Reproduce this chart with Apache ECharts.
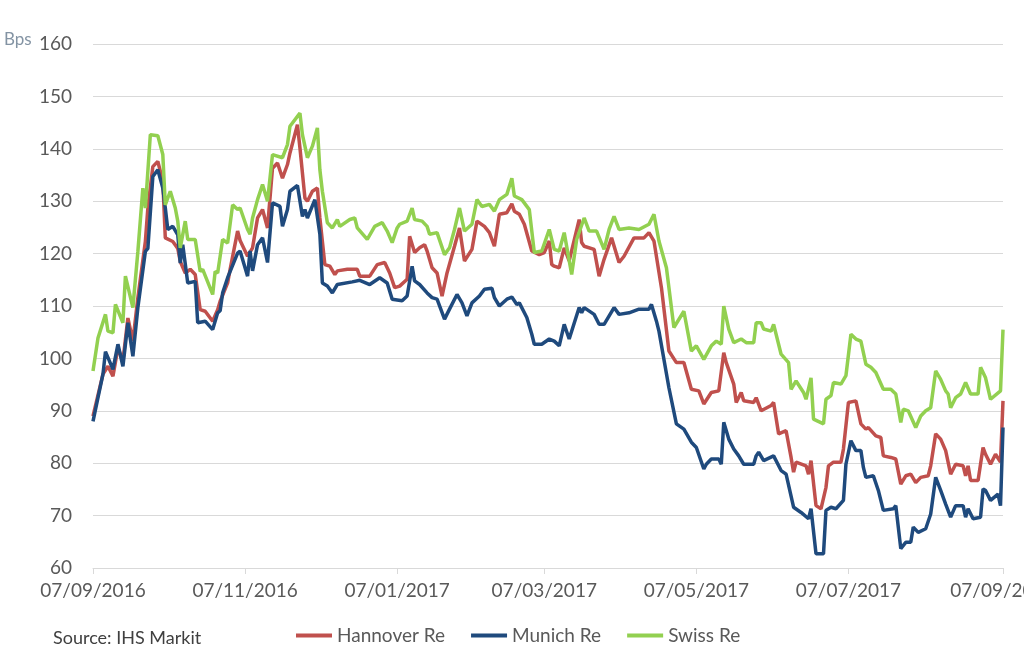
<!DOCTYPE html>
<html>
<head>
<meta charset="utf-8">
<script src="https://cdn.jsdelivr.net/npm/echarts@6/dist/echarts.min.js"></script>
<style>
  html, body { margin: 0; padding: 0; background: #ffffff; }
  #chart { width: 1024px; height: 666px; }
</style>
</head>
<body>
<div id="chart"></div>
<script>
// Day offsets are counted from startDate (07/09/2016).
const startDate = '2016-09-07';
const tickDays = [0, 61, 122, 181, 242, 303, 365];
const tickLabels = ['07/09/2016', '07/11/2016', '07/01/2017', '07/03/2017', '07/05/2017', '07/07/2017', '07/09/2017'];
const seriesNames = ['Hannover Re', 'Munich Re', 'Swiss Re'];

// [day offset, Bps]
const hannoverRe = [
  [0,89],[4,97],[6,98.5],[8,96.6],[10,102],[12,99.5],[14,107.7],[16,103.3],[18,111.6],[21,122.3],
  [22,128.7],[24,136.6],[26,137.6],[28,133.8],[29,123],[32,122.3],[34,121],[35,118.5],[37,116.3],[39,117],
  [41,116],[43,109.3],[45,109],[48,107.1],[50,109.3],[51,110.9],[54,114.4],[55,117],[58,124.3],[59,122.5],
  [62,119.5],[64,121.1],[66,126.8],[68,128.4],[70,124.9],[72,136.3],[74,137.3],[76,134.4],[78,137],[79,139.2],
  [82,144.6],[83,140.2],[85,130.6],[86,130],[88,131.9],[90,132.5],[91,126.8],[93,117.9],[95,117.6],[97,116],
  [98,116.7],[102,117],[106,117],[107,115.7],[111,115.7],[114,117.9],[117,118.3],[119,116.3],[121,113.5],[123,113.8],
  [126,115.1],[127,123.3],[129,120.2],[131,121.1],[133,121.7],[134,120.5],[136,117.3],[138,116.3],[140,111.9],[142,116.3],
  [145,121.4],[147,124.9],[149,118.6],[152,120.8],[154,126.2],[157,125.2],[159,124],[161,121.4],[163,127.5],[166,127.8],
  [168,129.5],[169,128.1],[171,127.5],[173,125.6],[176,120.5],[179,119.8],[181,120.2],[183,122.4],[184,117.9],[185,117.6],
  [187,117.3],[189,121.1],[191,118.6],[195,126.5],[196,122.1],[197,121.4],[201,120.8],[203,115.7],[205,118.9],[208,123],
  [211,118.3],[213,119.5],[217,123],[221,123],[223,124],[225,122.4],[228,113.5],[231,101.4],[234,99.2],[237,99.2],
  [240,94.1],[243,93.8],[245,91.3],[248,93.5],[251,93.8],[253,101.1],[254,99.2],[257,95.1],[258,91.6],[260,93.5],
  [261,91.9],[265,91.6],[266,92.5],[268,90],[272,91],[273,91.6],[275,85.6],[278,86.2],[280,81.1],[281,78.3],
  [282,80.2],[286,79.5],[287,77.9],[288,80.5],[290,71.9],[292,71.3],[294,75.4],[295,79.5],[297,80.2],[300,80.2],
  [301,82.7],[303,91.6],[306,91.9],[308,87.5],[310,86.5],[311,86.8],[314,85.2],[316,84.9],[317,81.4],[320,81.1],
  [322,80.8],[324,76],[326,77.6],[328,77.9],[330,76.3],[332,77.3],[335,77.6],[336,79.5],[338,85.6],[340,84.6],
  [342,82.4],[344,77.9],[346,79.8],[349,79.5],[350,77.6],[351,79.5],[352,76.7],[355,76.7],[357,83],[358,81.7],
  [360,79.8],[362,81.7],[364,80.2],[365,91.9]
];

const munichRe = [
  [0,88],[2,92.5],[4,97],[5,101.3],[8,97.9],[10,102.7],[12,98.5],[14,106.8],[16,100.4],[18,109.7],
  [21,120.4],[22,121],[24,134.7],[26,136],[28,132.5],[29,128.7],[30,124.6],[32,125.2],[34,123.6],[35,118.2],
  [36,121.7],[38,114.4],[41,114.7],[42,106.8],[45,107.1],[48,105.5],[50,108.7],[51,109.1],[52,112.5],[54,115.4],
  [58,120.1],[59,120.5],[62,115.7],[63,120.5],[64,116.7],[66,121.7],[68,123],[70,118.3],[72,129.7],[75,129],
  [76,125.2],[78,128.4],[79,131.9],[82,133],[84,127.1],[85,128.4],[86,126.8],[89,130.3],[91,123.7],[92,114.4],
  [94,113.8],[96,112.5],[98,114.1],[104,114.6],[107,114.9],[111,114.1],[115,115.4],[118,114.4],[120,111.3],[124,111],
  [126,111.9],[128,117.6],[129,114.8],[131,114.1],[134,112.5],[136,111.6],[138,111.3],[141,107.5],[143,109.4],[146,112.2],
  [148,110.6],[150,108.1],[152,110.6],[155,111.9],[157,113.2],[160,113.4],[161,111.6],[163,110],[166,111.3],[168,111.7],
  [170,110.3],[171,110.6],[174,107.8],[176,104.6],[177,102.7],[180,102.7],[183,103.7],[185,103.3],[187,102.4],[189,106.5],
  [191,103.7],[195,109.7],[196,108.7],[197,109.7],[201,108.4],[203,106.5],[205,106.5],[209,109.7],[211,108.4],[215,108.7],
  [219,109.4],[223,109.4],[224,110.3],[226,107.1],[227,105.2],[231,94.4],[234,87.5],[237,86.5],[240,84],[242,83],
  [245,78.9],[246,79.8],[248,80.8],[251,80.8],[252,79.8],[253,87.8],[255,84.6],[257,82.7],[259,81.4],[261,79.8],
  [265,79.8],[266,81.4],[267,82.1],[269,80.5],[273,81.4],[276,78.6],[278,77.9],[281,71.6],[284,70.6],[287,69.4],
  [288,71.3],[290,62.7],[293,62.7],[294,71],[296,71.6],[298,71.3],[301,72.9],[302,79.8],[304,84.3],[306,82.4],
  [308,82.4],[309,79.2],[310,77.3],[313,77.6],[315,74.8],[317,71],[321,71.3],[322,71.9],[324,63.7],[326,64.9],
  [328,64.9],[329,67.8],[331,66.8],[334,67.5],[336,70.3],[338,77.3],[340,74.8],[342,72.2],[344,69.7],[346,71.9],
  [349,71.9],[350,69.7],[351,71.3],[353,69.4],[356,69.7],[357,75.1],[358,74.8],[360,72.9],[363,74.1],[364,71.9],
  [365,86.8]
];

const swissRe = [
  [0,97.6],[2,103.9],[5,108.4],[6,105.2],[8,104.9],[9,110.3],[12,106.8],[13,115.7],[16,109.7],[18,120.4],
  [20,132.5],[21,128.7],[23,142.7],[26,142.5],[28,138.9],[29,129.3],[31,131.9],[33,128.7],[34,126.2],[35,121.1],
  [37,126.2],[38,122.7],[41,122.7],[43,116.6],[44,117],[48,112.2],[49,116.6],[50,116.3],[52,122.7],[54,122],
  [56,129.3],[58,128.4],[59,128.7],[62,124.6],[63,123.7],[64,126.8],[66,130.3],[68,133.2],[70,130],[72,138.9],
  [76,138.3],[78,140.8],[79,144.3],[83,146.8],[84,142.7],[86,138.3],[88,140.5],[90,144],[91,136],[92,131.9],
  [94,125.9],[96,124.9],[98,126.5],[99,125.2],[103,126.5],[105,126.8],[106,124.9],[110,122.7],[113,125.2],[116,125.9],
  [118,124.3],[120,122.1],[122,124.9],[123,125.6],[126,126.2],[128,128.7],[129,126.5],[132,126.2],[134,125.2],[135,123.7],
  [138,124],[141,119.8],[143,121.1],[145,124.6],[147,128.7],[149,124.3],[152,125.6],[154,130.3],[156,129],[159,129.4],
  [161,128.1],[163,130.3],[166,131.3],[168,134.4],[169,131],[172,130.3],[175,128.4],[177,120.2],[180,120.5],[183,124.6],
  [185,120.8],[187,120.5],[189,124],[192,116],[194,122.7],[197,126.8],[199,124.3],[202,124.3],[205,120.8],[207,124.6],
  [209,127.1],[211,124.6],[215,124.9],[219,124.6],[223,125.6],[225,127.5],[227,122.4],[230,117.3],[233,105.9],[237,109],
  [240,101.4],[242,102.4],[245,99.8],[248,102.4],[250,103.3],[252,102.7],[253,110],[255,105.6],[257,103],[260,103.7],
  [262,103],[265,103],[266,106.8],[268,106.8],[269,105.6],[272,105.2],[273,106.5],[276,100.8],[279,99.2],[280,94.1],
  [282,95.7],[285,93.5],[286,92.2],[288,96.3],[289,88.4],[293,87.5],[294,92.2],[296,92.9],[297,95.4],[300,95.1],
  [302,96.7],[304,104.6],[306,103.7],[308,103.3],[310,98.9],[312,98.3],[314,97.3],[317,94.1],[320,94.1],[322,93.2],
  [324,87.8],[325,90.3],[327,90],[330,86.8],[332,89],[334,90],[336,90.6],[338,97.6],[340,96],[342,93.8],
  [343,93.2],[344,90.6],[346,92.5],[348,93.2],[350,95.4],[352,93.2],[355,93.2],[356,98.3],[358,96.3],[360,92.2],
  [364,93.8],[365,105.5]
];

const colors = ['#c0504d', '#1f4a7d', '#92d050'];
const fontFamily = 'Lato, "Open Sans", sans-serif';

const chart = echarts.init(document.getElementById('chart'), null, { renderer: 'canvas' });

function labelFor(v) {
  const i = tickDays.indexOf(Math.round(v));
  return i >= 0 ? tickLabels[i] : '';
}

const option = {
  backgroundColor: '#ffffff',
  animation: false,
  color: colors,
  grid: { left: 93, right: 21, top: 44, bottom: 98, containLabel: false, outerBoundsMode: 'none' },
  graphic: [
    { type: 'text', left: 4, top: 31, style: { text: 'Bps', fill: '#8393a3', font: '17px ' + fontFamily } },
    { type: 'text', left: 53, top: 629, style: { text: 'Source: IHS Markit', fill: '#404040', font: '18px ' + fontFamily } }
  ],
  legend: {
    data: seriesNames,
    left: 291,
    top: 621,
    icon: 'rect',
    itemWidth: 36,
    itemHeight: 4,
    itemGap: 26,
    textStyle: { fontSize: 19, color: '#595959', fontFamily: fontFamily }
  },
  xAxis: {
    type: 'value',
    min: 0,
    max: 365,
    axisLine: { show: true, lineStyle: { color: '#d9d9d9', width: 1 } },
    axisTick: { show: true, customValues: tickDays, length: 6, lineStyle: { color: '#d9d9d9' } },
    axisLabel: {
      customValues: tickDays,
      formatter: labelFor,
      margin: 13,
      fontSize: 19,
      color: '#595959',
      fontFamily: fontFamily,
      showMinLabel: true,
      showMaxLabel: true,
      hideOverlap: false
    },
    splitLine: { show: false }
  },
  yAxis: {
    type: 'value',
    min: 60,
    max: 160,
    interval: 10,
    axisLine: { show: false },
    axisTick: { show: false },
    axisLabel: { margin: 21, fontSize: 19, color: '#595959', fontFamily: fontFamily },
    splitLine: { lineStyle: { color: '#d9d9d9', width: 1 } }
  },
  series: [
    { name: seriesNames[0], type: 'line', data: hannoverRe, showSymbol: false, lineStyle: { width: 3.5, color: colors[0] }, itemStyle: { color: colors[0] } },
    { name: seriesNames[1], type: 'line', data: munichRe, showSymbol: false, lineStyle: { width: 3.5, color: colors[1] }, itemStyle: { color: colors[1] } },
    { name: seriesNames[2], type: 'line', data: swissRe, showSymbol: false, lineStyle: { width: 3.5, color: colors[2] }, itemStyle: { color: colors[2] } }
  ]
};

chart.setOption(option);
</script>
</body>
</html>
